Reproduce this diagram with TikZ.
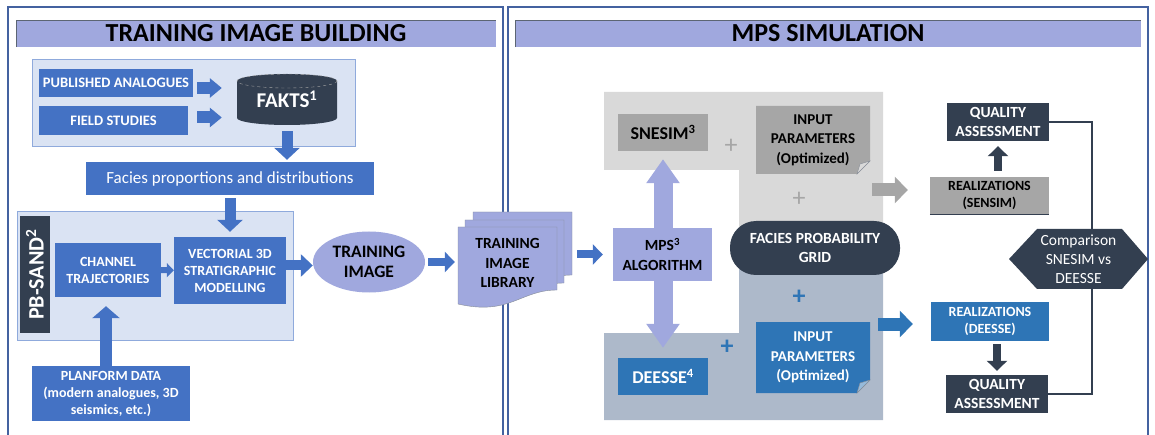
\documentclass[tikz,border=0pt]{standalone}
\usepackage{fontspec}
\setmainfont{Carlito}
\usetikzlibrary{arrows.meta,shapes.geometric}
\definecolor{frame}{RGB}{68,98,160}
\definecolor{lav}{RGB}{160,168,222}
\definecolor{pale}{RGB}{218,227,243}
\definecolor{paleline}{RGB}{143,170,220}
\definecolor{blu}{RGB}{68,114,196}
\definecolor{navy}{RGB}{51,63,80}
\definecolor{lgrey}{RGB}{217,217,217}
\definecolor{bgrey}{RGB}{173,185,202}
\definecolor{mgrey}{RGB}{166,166,166}
\definecolor{sblue}{RGB}{46,117,182}
\begin{document}
\begin{tikzpicture}[x=1pt, y=-1pt,
    box/.style = {align=center, inner sep=0pt, font=\bfseries\fontsize{14}{17}\selectfont},
    bluebox/.style = {box, fill=blu, text=white},
    navybox/.style = {box, fill=navy, text=white, font=\bfseries\fontsize{15.5}{19}\selectfont},
    greybox/.style = {box, fill=mgrey, font=\bfseries\fontsize{14}{17}\selectfont},
    title/.style = {box, fill=lav, font=\bfseries\fontsize{26}{30}\selectfont},
    barrow/.style = {line width=11pt, draw=blu, -{Triangle[length=12pt,width=25pt]}},
    sarrow/.style = {line width=8pt, -{Triangle[length=10pt,width=20pt]}},
    plus/.style = {inner sep=0pt, font=\fontsize{26}{26}\selectfont}]
    \useasboundingbox (0,0) rectangle (1155,435);
    \draw[frame, line width=1.5pt] (8,7) rectangle (503,445);
    \draw[frame, line width=1.5pt] (508,7) rectangle (1148,445);
    \node[title, minimum width=480, minimum height=27] (tib) at (256,33.5) {TRAINING IMAGE BUILDING};
    \node[title, minimum width=626, minimum height=27] (mps) at (828,33.5) {MPS SIMULATION};
    \draw[navy!80] (tib.south west) |- (tib.north east);
    \draw[navy!80] (mps.south west) |- (mps.north east);
    \draw[fill=pale, draw=paleline] (32,59) rectangle (355,146);
    \draw[fill=pale, draw=paleline] (17,211) rectangle (293,340);
    \fill[lgrey] (604,92) -- (883,92) -- (883,248) -- (739,248) -- (739,170) -- (604,170) -- cycle;
    \fill[bgrey] (739,248) -- (883,248) -- (883,420) -- (604,420) -- (604,333) -- (739,333) -- cycle;
    \node[bluebox, minimum width=154, minimum height=28, font=\bfseries\fontsize{14.5}{17}\selectfont] (pub) at (116,83) {PUBLISHED ANALOGUES};
    \node[bluebox, minimum width=149, minimum height=29, font=\bfseries\fontsize{14.5}{17}\selectfont] (field) at (113.5,120.5) {FIELD STUDIES};
    \fill[navy] (237,81) -- (237,118) arc[start angle=180, end angle=0, x radius=50, y radius=7]
        -- (337,81) arc[start angle=0, end angle=-180, x radius=50, y radius=7] -- cycle;
    \draw[dashed, gray!70] (287,81) ellipse[x radius=50, y radius=7];
    \node[box, text=white, minimum width=100, minimum height=51, font=\bfseries\fontsize{21}{24}\selectfont] (fakts) at (287,99.5) {FAKTS\textsuperscript{1}};
    \node[box, fill=blu, text=white, minimum width=288, minimum height=33, font=\fontsize{17}{20}\selectfont] (facies) at (230,178.5) {Facies proportions and distributions};
    \node[box, fill=navy, text=white, rotate=90, minimum width=117, minimum height=30, font=\bfseries\fontsize{22}{22}\selectfont] (pbs) at (35,274.5) {PB-SAND\textsuperscript{2}};
    \node[bluebox, minimum width=106, minimum height=54] (chan) at (108,270) {CHANNEL\\TRAJECTORIES};
    \node[bluebox, minimum width=112, minimum height=67] (vect) at (230,270.5) {VECTORIAL 3D\\STRATIGRAPHIC\\MODELLING};
    \node[bluebox, minimum width=158, minimum height=55] (plan) at (111,393.5) {PLANFORM DATA\\(modern analogues, 3D\\seismics, etc.)};
    \node[box, ellipse, fill=lav, minimum width=112, minimum height=61, font=\bfseries\fontsize{17.5}{20}\selectfont] (timg) at (369,262) {TRAINING\\IMAGE};
    \foreach \d in {15,7,0}
        \filldraw[fill=lav, draw=navy!60, shift={(\d,-\d)}] (458,227) -- (557,227) -- (557,290)
            .. controls (520,290) and (510,316) .. (458,304) -- cycle;
    \node[box, minimum width=99, minimum height=78, font=\bfseries\fontsize{15.5}{19.5}\selectfont] (lib) at (507.5,263) {TRAINING\\IMAGE\\LIBRARY};
    \node[greybox, minimum width=90, minimum height=37, font=\bfseries\fontsize{18}{20}\selectfont] (snesim) at (663,132.5) {SNESIM\textsuperscript{3}};
    \node[box, fill=sblue, text=white, minimum width=90, minimum height=37, font=\bfseries\fontsize{18}{20}\selectfont] (deesse) at (663,376.5) {DEESSE\textsuperscript{4}};
    \draw[line width=19pt, lav, {Triangle[length=24pt,width=32pt]}-{Triangle[length=24pt,width=32pt]}, shorten <=8pt, shorten >=10pt] (snesim) -- (deesse);
    \node[box, fill=lav, minimum width=99, minimum height=53, font=\bfseries\fontsize{15.5}{20}\selectfont] (alg) at (662.5,254.5) {MPS\textsuperscript{3}\\ALGORITHM};
    \fill[mgrey] (756,106) -- (870,106) -- (870,161) -- (857,174) -- (756,174) -- cycle;
    \filldraw[fill=lgrey, draw=navy!60] (857,174) -- (860,164) -- (870,161) -- cycle;
    \node[box, minimum width=114, minimum height=68, font=\bfseries\fontsize{15}{19.5}\selectfont] (inpg) at (813,140) {INPUT\\PARAMETERS\\(Optimized)};
    \fill[sblue] (756,322) -- (870,322) -- (870,380) -- (857,393) -- (756,393) -- cycle;
    \filldraw[fill=sblue!50, draw=navy!60] (857,393) -- (860,383) -- (870,380) -- cycle;
    \node[box, text=white, minimum width=114, minimum height=71, font=\bfseries\fontsize{15}{19.5}\selectfont] (inpb) at (813,357.5) {INPUT\\PARAMETERS\\(Optimized)};
    \node[box, fill=navy, text=white, rounded corners=26pt, minimum width=170, minimum height=54, font=\bfseries\fontsize{15.5}{19}\selectfont] (fpg) at (815,248) {FACIES PROBABILITY\\GRID};
    \node[plus, text=mgrey] (p1) at (731,146) {+};
    \node[plus, text=mgrey] (p2) at (799,199) {+};
    \node[plus, text=sblue, font=\bfseries\fontsize{26}{26}\selectfont] (p3) at (799,297) {+};
    \node[plus, text=sblue, font=\bfseries\fontsize{26}{26}\selectfont] (p4) at (727,347) {+};
    \node[navybox, minimum width=102, minimum height=38] (qa1) at (998,122) {QUALITY\\ASSESSMENT};
    \node[greybox, minimum width=119, minimum height=37] (rs) at (989.5,195.5) {REALIZATIONS\\(SENSIM)};
    \draw[navy, line width=1pt] (rs.south west) -- (rs.south east);
    \node[box, fill=sblue, text=white, minimum width=118, minimum height=39] (rd) at (990,321.5) {REALIZATIONS\\(DEESSE)};
    \node[navybox, minimum width=102, minimum height=38] (qa2) at (997,394) {QUALITY\\ASSESSMENT};
    \fill[navy] (1009,259) -- (1037,229) -- (1122,229) -- (1148,259) -- (1122,289) -- (1037,289) -- cycle;
    \node[box, text=white, minimum width=139, minimum height=60, font=\fontsize{15.5}{19}\selectfont] (cmp) at (1078.5,259) {Comparison\\SNESIM vs\\DEESSE};
    \coordinate (g1) at (872,190);
    \coordinate (b1) at (878,324);
    \draw[barrow, line width=12pt, -{Triangle[length=12pt,width=19pt]}, shorten <=4pt, shorten >=15pt] ([yshift=-5pt]pub.east) -- ([yshift=-5pt]pub.east -| fakts.west);
    \draw[barrow, line width=12pt, -{Triangle[length=12pt,width=19pt]}, shorten <=9pt, shorten >=15pt] ([yshift=3pt]field.east) -- ([yshift=3pt]field.east -| fakts.west);
    \draw[barrow, shorten <=6pt, shorten >=2pt] (fakts.south) -- (facies.north -| fakts.south);
    \draw[barrow, shorten <=3pt, shorten >=5pt] (facies) -- (vect);
    \draw[barrow, line width=12pt, -{Triangle[length=12pt,width=27pt]}, shorten >=9pt] ([xshift=-5pt]plan.north) -- ([xshift=-5pt]plan.north |- chan.south);
    \draw[sarrow, draw=blu, line width=6pt, -{Triangle[length=7pt,width=14pt]}] (chan) -- (vect);
    \draw[sarrow, draw=blu, line width=10pt, -{Triangle[length=12pt,width=22pt]}] ([yshift=5pt]vect.east) -- ([yshift=5pt]vect.east -| timg.west);
    \draw[sarrow, draw=blu, shorten <=3pt, shorten >=3pt] (timg) -- (lib.west |- timg);
    \draw[sarrow, draw=blu, shorten <=20pt, shorten >=10pt] (lib.east |- alg.west) -- (alg.west);
    \draw[line width=13pt, mgrey, -{Triangle[length=13pt,width=26pt]}, shorten >=22pt] (g1) -- (g1 -| rs.west);
    \draw[line width=13pt, sblue, -{Triangle[length=13pt,width=26pt]}, shorten >=18pt] (b1) -- (b1 -| rd.west);
    \draw[sarrow, draw=navy, shorten <=6pt, shorten >=5pt] (qa1.south |- rs.north) -- (qa1.south);
    \draw[sarrow, draw=navy, shorten <=3pt, shorten >=4pt] (qa2.north |- rd.south) -- (qa2.north);
    \draw[navy, line width=2pt] (qa1.east) -| ([xshift=13.5pt]cmp.north);
    \draw[navy, line width=2pt] (qa2.east) -| ([xshift=13.5pt]cmp.south);
\end{tikzpicture}
\end{document}
